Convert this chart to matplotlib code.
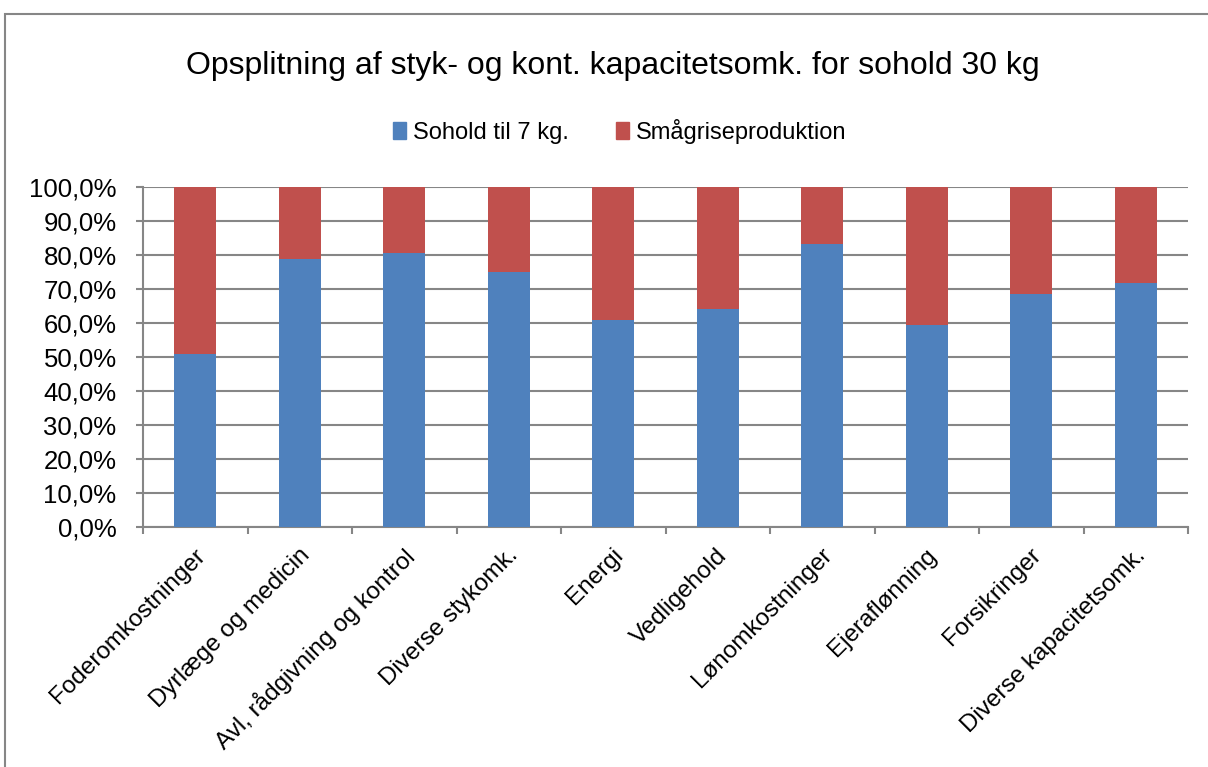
import numpy as np
import matplotlib
matplotlib.use("Agg")
import matplotlib.pyplot as plt
from matplotlib.patches import Rectangle, Patch
from matplotlib.ticker import FuncFormatter, MultipleLocator

plt.rcParams['font.family'] = ['Liberation Sans', 'DejaVu Sans']

categories = ["Foderomkostninger", "Dyrlæge og medicin", "Avl, rådgivning og kontrol",
              "Diverse stykomk.", "Energi", "Vedligehold", "Lønomkostninger",
              "Ejeraflønning", "Forsikringer", "Diverse kapacitetsomk."]
sohold = [50.8, 78.9, 80.6, 74.9, 61.0, 64.1, 83.3, 59.3, 68.4, 71.7]
smagrise = [100 - v for v in sohold]

series_names = ["Sohold til 7 kg.", "Smågriseproduktion"]
colors = ["#4F81BD", "#C0504D"]
grey = "#868686"

W, H = 1208, 767
fig = plt.figure(figsize=(W / 100, H / 100), dpi=100)

# outer chart frame (runs off the right and bottom edge)
fig.patches.append(Rectangle((5 / W, -0.1), 1.2, 1 - 14 / H + 0.1, transform=fig.transFigure,
                             fill=False, edgecolor=grey, linewidth=1.5))

ax = fig.add_axes([143 / W, 1 - 527 / H, (1188 - 143) / W, (527 - 187) / H])

x = np.arange(len(categories))
ax.bar(x, sohold, width=0.4, color=colors[0], zorder=3)
ax.bar(x, smagrise, width=0.4, bottom=sohold, color=colors[1], zorder=3)

ax.set_xlim(-0.5, len(categories) - 0.5)
ax.set_ylim(0, 100)
ax.yaxis.set_major_locator(MultipleLocator(10))
ax.yaxis.set_major_formatter(FuncFormatter(lambda v, p: f"{v:.1f}%".replace(".", ",")))
ax.grid(axis="y", color=grey, linewidth=1.5, zorder=0)

for s in ["top", "right"]:
    ax.spines[s].set_visible(False)
for s in ["left", "bottom"]:
    ax.spines[s].set_color(grey)
    ax.spines[s].set_linewidth(1.5)

ax.set_xticks(np.arange(len(categories) + 1) - 0.5)
ax.set_xticklabels([])
ax.tick_params(axis="x", length=5, width=1.5, color=grey)
ax.tick_params(axis="y", length=5, width=1.5, color=grey, labelsize=18.5, pad=14)

for i, lab in enumerate(categories):
    ax.annotate(lab, xy=(i, 0), xycoords=("data", "axes fraction"),
                xytext=(-1, -12.5), textcoords="offset points",
                rotation=45, ha="right", va="top", rotation_mode="anchor", fontsize=17.5)

fig.text(613 / W, 1 - 66 / H, "Opsplitning af styk- og kont. kapacitetsomk. for sohold 30 kg",
         ha="center", va="center", fontsize=23)

handles = [Patch(color=c) for c in colors]
fig.legend(handles, series_names, loc="center", bbox_to_anchor=(620 / W, 1 - 131 / H),
           ncol=2, frameon=False, fontsize=17, handlelength=0.55, handleheight=0.7,
           handletextpad=0.3, columnspacing=2.0)

fig.savefig("out.png", dpi=100)
